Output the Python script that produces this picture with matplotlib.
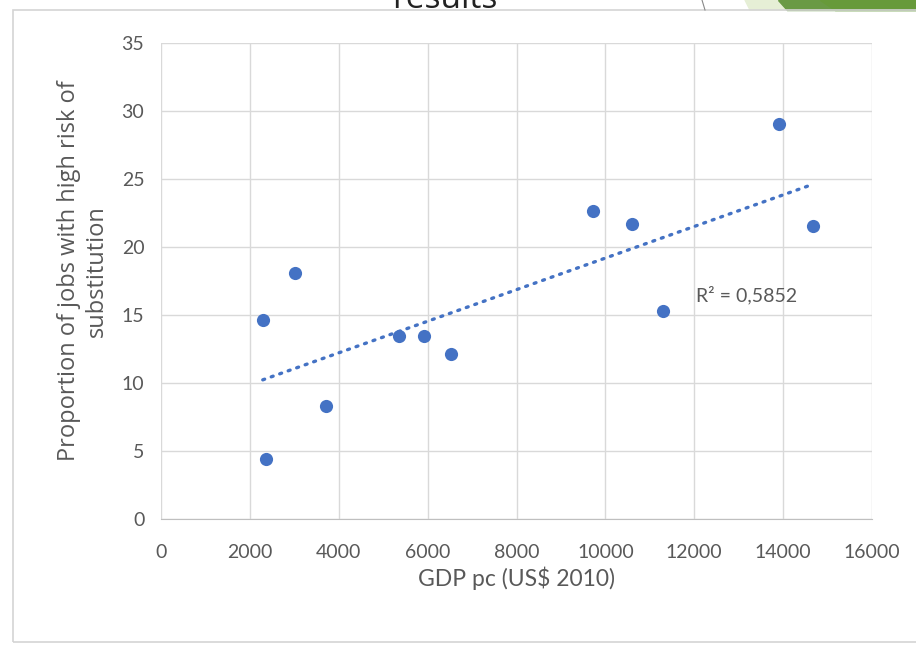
import numpy as np
import matplotlib.pyplot as plt
from matplotlib.patches import Polygon, Rectangle

# GDP per capita vs share of jobs at high risk of substitution
gdp = [2290, 2360, 3015, 3705, 5360, 5910, 6525, 9720, 10600, 11300, 13910, 14675]
risk = [14.6, 4.4, 18.1, 8.3, 13.4, 13.4, 12.1, 22.6, 21.7, 15.3, 29.0, 21.5]

x_ticks = [0, 2000, 4000, 6000, 8000, 10000, 12000, 14000, 16000]
y_ticks = [0, 5, 10, 15, 20, 25, 30, 35]
r2_text = "R² = 0,5852"

narrow = ["Lato", "DejaVu Sans"]
grey_txt = "#595959"
blue = "#4472C4"

fig = plt.figure(figsize=(9.16, 6.46), dpi=100)
ax = fig.add_axes([161 / 916, 1 - 518.7 / 646, (872 - 161) / 916, (518.7 - 42.7) / 646])

# slide remnants above the chart frame
fig.text(445 / 916, 1 - 8 / 646, "results", fontsize=24, family=["Open Sans", "DejaVu Sans"],
         ha="center", va="baseline", color="#222222")
fig.patches.append(Polygon([[745 / 916, 1], [782 / 916, 1], [790 / 916, 1 - 10 / 646], [750 / 916, 1 - 10 / 646]],
                           closed=True, transform=fig.transFigure, color="#e6efd6", zorder=0))
fig.patches.append(Polygon([[778 / 916, 1], [1, 1], [1, 1 - 10 / 646], [787 / 916, 1 - 10 / 646]],
                           closed=True, transform=fig.transFigure, color="#6a9a45", zorder=0))
fig.patches.append(Polygon([[820 / 916, 1], [916 / 916, 1], [1, 1 - 10 / 646], [835 / 916, 1 - 10 / 646]],
                           closed=True, transform=fig.transFigure, color="#679a3a", zorder=0))
fig.lines.append(plt.Line2D([702 / 916, 705 / 916], [1, 1 - 10 / 646], transform=fig.transFigure,
                            color="#888888", lw=0.8))
# chart frame
fig.patches.append(Rectangle((13 / 916, 1 - 642 / 646), 1.0, (642 - 10) / 646, transform=fig.transFigure,
                             fill=False, edgecolor="#d4d4d4", lw=1.2, zorder=0))

ax.scatter(gdp, risk, s=90, color=blue, zorder=3, linewidths=0)

# linear trendline over the data range
slope, intercept = np.polyfit(gdp, risk, 1)
xs = np.array([min(gdp), max(gdp)])
ax.plot(xs, slope * xs + intercept, color=blue, lw=2.4, linestyle=(0, (0.6, 2.1)),
        dash_capstyle="round", zorder=2)

ax.text(12050, 16.45, r2_text, fontsize=14, family=narrow, color=grey_txt, ha="left", va="center")

ax.set_xlim(0, 16000)
ax.set_ylim(0, 35)
ax.set_xticks(x_ticks)
ax.set_yticks(y_ticks)
ax.set_xticklabels([str(t) for t in x_ticks], family=narrow, fontsize=14, color=grey_txt)
ax.set_yticklabels([str(t) for t in y_ticks], family=narrow, fontsize=14, color=grey_txt)
ax.tick_params(axis="both", length=0)
ax.tick_params(axis="y", pad=12)
ax.tick_params(axis="x", pad=18)
ax.grid(True, color="#d9d9d9", lw=1)
ax.set_axisbelow(True)
for side in ["top", "right", "left"]:
    ax.spines[side].set_visible(False)
ax.spines["bottom"].set_color("#bfbfbf")

ax.set_xlabel("GDP pc (US$ 2010)", family=narrow, fontsize=16.5, color=grey_txt, labelpad=4)
ax.set_ylabel("Proportion of jobs with high risk of\nsubstitution", family=["Open Sans", "DejaVu Sans"],
              fontsize=17, color=grey_txt, linespacing=1.2)
ax.yaxis.set_label_coords(-0.074, 0.52)

plt.savefig("out.png", dpi=100)
plt.close()
